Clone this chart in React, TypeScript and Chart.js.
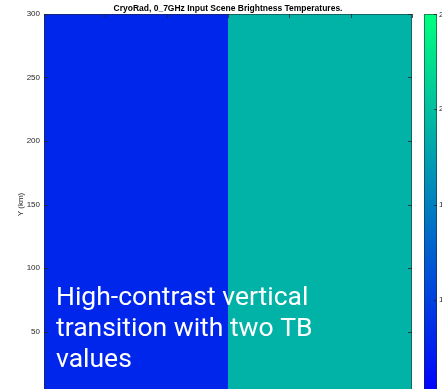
import React, { useEffect, useRef } from 'react';
import { Chart, registerables } from 'chart.js';

Chart.register(...registerables);

// ---- data ----
const xEdges = [0, 150, 300];          // column boundaries (km)
const tbValues = [80, 190];            // brightness temperature per column (K)
const yTop = 300;                      // scene top (km)
const xTicks = [0, 50, 100, 150, 200, 250, 300];
const yTicks = [0, 50, 100, 150, 200, 250, 300];
const cbMin = 50;
const cbMax = 250;
const cbTicks = [100, 150, 200, 250];
const titleText = 'CryoRad, 0_7GHz Input Scene Brightness Temperatures.';
const xLabel = 'X (km)';
const yLabel = 'Y (km)';
const noteLines = ['High-contrast vertical', 'transition with two TB', 'values'];

const W = 470;
const H = 430;
const FONT = '"Liberation Sans", Arial, Helvetica, sans-serif';

function winter(v: number): string {
  const t = Math.max(0, Math.min(1, (v - cbMin) / (cbMax - cbMin)));
  return `rgb(0,${Math.round(255 * t)},${Math.round(255 * (1 - 0.5 * t))})`;
}

const decorPlugin = {
  id: 'decor',
  afterDraw(chart: any) {
    const { ctx, chartArea } = chart;
    const { left, right, top, bottom } = chartArea;
    const xs = chart.scales.x;
    const ys = chart.scales.y;
    ctx.save();
    // box
    ctx.strokeStyle = 'rgba(38,38,38,0.55)';
    ctx.lineWidth = 1;
    ctx.strokeRect(left + 0.5, top + 0.5, right - left - 1, bottom - top - 1);
    // inner ticks
    ctx.strokeStyle = 'rgba(38,38,38,0.8)';
    ctx.beginPath();
    const tl = 4;
    xTicks.forEach((v) => {
      const px = Math.round(xs.getPixelForValue(v)) + 0.5;
      ctx.moveTo(px, top); ctx.lineTo(px, top + tl);
      ctx.moveTo(px, bottom); ctx.lineTo(px, bottom - tl);
    });
    yTicks.forEach((v) => {
      const py = Math.round(ys.getPixelForValue(v)) + 0.5;
      ctx.moveTo(left, py); ctx.lineTo(left + tl, py);
      ctx.moveTo(right, py); ctx.lineTo(right - tl, py);
    });
    ctx.stroke();

    // title
    ctx.fillStyle = '#000';
    ctx.font = `bold 8.5px ${FONT}`;
    ctx.textAlign = 'center';
    ctx.textBaseline = 'alphabetic';
    ctx.fillText(titleText, (left + right) / 2, top - 3);

    // y label
    ctx.fillStyle = '#262626';
    ctx.font = `8px ${FONT}`;
    ctx.save();
    ctx.translate(21, (top + bottom) / 2);
    ctx.rotate(-Math.PI / 2);
    ctx.textAlign = 'center';
    ctx.textBaseline = 'middle';
    ctx.fillText(yLabel, 0, 0);
    ctx.restore();

    // x label
    ctx.textAlign = 'center';
    ctx.textBaseline = 'top';
    ctx.fillText(xLabel, (left + right) / 2, bottom + 18);

    // colorbar
    const cbL = 424;
    const cbR = 437;
    const cbPix = (v: number) => bottom - ((v - cbMin) / (cbMax - cbMin)) * (bottom - top);
    const grad = ctx.createLinearGradient(0, bottom, 0, top);
    for (let i = 0; i <= 10; i++) {
      const v = cbMin + ((cbMax - cbMin) * i) / 10;
      grad.addColorStop(i / 10, winter(v));
    }
    ctx.fillStyle = grad;
    ctx.fillRect(cbL, top, cbR - cbL, bottom - top);
    ctx.strokeStyle = 'rgba(38,38,38,0.55)';
    ctx.strokeRect(cbL + 0.5, top + 0.5, cbR - cbL - 1, bottom - top - 1);
    ctx.strokeStyle = 'rgba(38,38,38,0.8)';
    ctx.beginPath();
    cbTicks.forEach((v) => {
      const py = Math.round(cbPix(v)) + 0.5;
      ctx.moveTo(cbR, py); ctx.lineTo(cbR - 3, py);
    });
    ctx.stroke();
    ctx.fillStyle = '#262626';
    ctx.font = `8px ${FONT}`;
    ctx.textAlign = 'left';
    ctx.textBaseline = 'middle';
    cbTicks.forEach((v) => {
      ctx.fillText(String(v), cbR + 2, Math.max(top + 1, cbPix(v)));
    });

    // annotation
    ctx.fillStyle = '#ffffff';
    ctx.font = '26.5px Roboto';
    ctx.textAlign = 'left';
    ctx.textBaseline = 'alphabetic';
    noteLines.forEach((s, i) => {
      ctx.fillText(s, 56, 305 + i * 31);
    });
    ctx.restore();
  },
};

export default function App() {
  const ref = useRef<HTMLCanvasElement | null>(null);
  useEffect(() => {
    if (!ref.current) return;
    const datasets = tbValues.map((tb, i) => ({
      label: `TB ${tb}`,
      data: [
        { x: xEdges[i], y: yTop },
        { x: xEdges[i + 1], y: yTop },
      ],
      borderWidth: 0,
      borderColor: 'rgba(0,0,0,0)',
      pointRadius: 0,
      backgroundColor: winter(tb),
      fill: 'start',
    }));
    const chart = new Chart(ref.current, {
      type: 'line',
      data: { datasets },
      options: {
        animation: false,
        responsive: false,
        devicePixelRatio: 1,
        layout: { padding: { left: 0, top: 14, right: W - 412, bottom: 0 } },
        plugins: { legend: { display: false }, tooltip: { enabled: false }, title: { display: false } },
        scales: {
          x: {
            type: 'linear',
            min: 0,
            max: 300,
            position: 'bottom',
            afterBuildTicks: (s: any) => { s.ticks = xTicks.map((v) => ({ value: v })); },
            afterFit: (s: any) => { s.height = H - 395; },
            grid: { display: false, drawTicks: false },
            border: { display: false },
            ticks: { color: '#262626', font: { size: 8, family: FONT }, padding: 4, maxRotation: 0 },
          },
          y: {
            type: 'linear',
            min: 0,
            max: 300,
            position: 'left',
            afterBuildTicks: (s: any) => { s.ticks = yTicks.map((v) => ({ value: v })); },
            afterFit: (s: any) => { s.width = 44; },
            grid: { display: false, drawTicks: false },
            border: { display: false },
            ticks: { color: '#262626', font: { size: 8, family: FONT }, padding: 4 },
          },
        },
      },
      plugins: [decorPlugin],
    } as any);
    return () => chart.destroy();
  }, []);
  return (
    <div style={{ position: 'fixed', left: 0, top: 0, width: 442, height: 389, overflow: 'hidden', background: '#fff' }}>
      <canvas ref={ref} width={W} height={H} style={{ display: 'block', width: W, height: H }} />
    </div>
  );
}
